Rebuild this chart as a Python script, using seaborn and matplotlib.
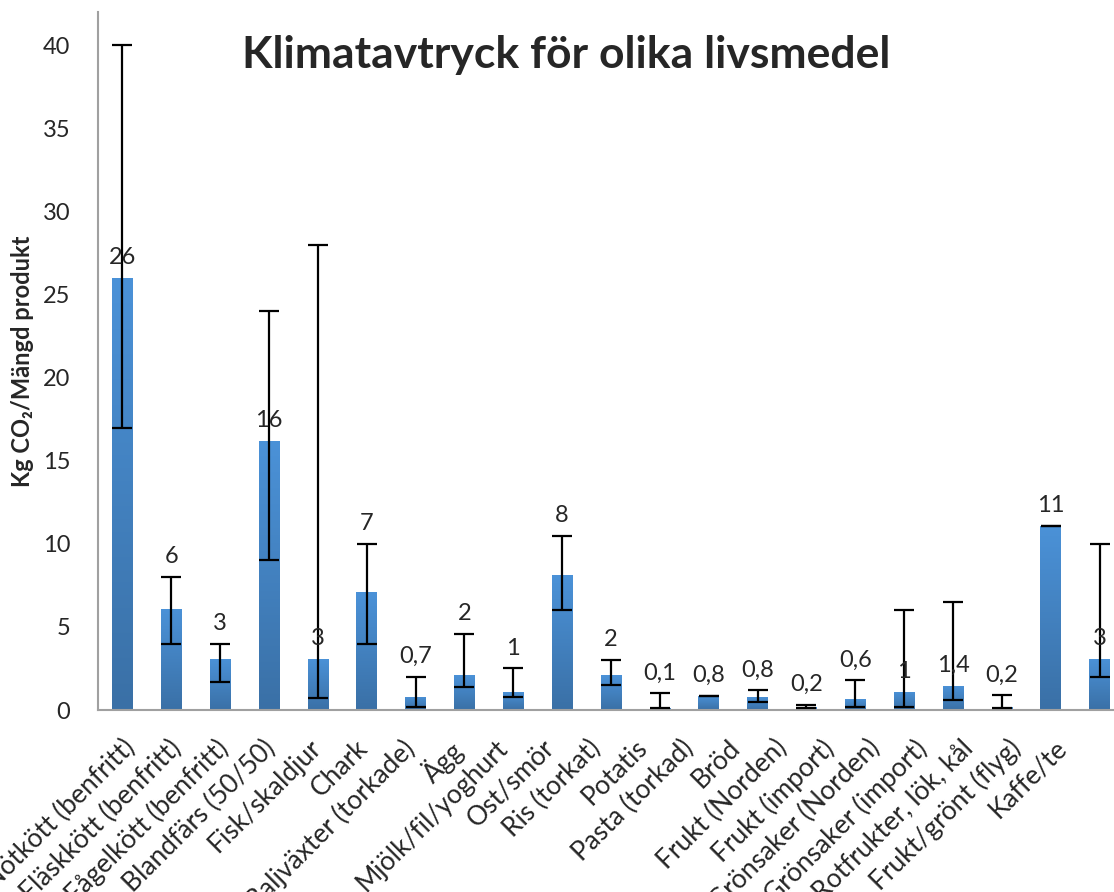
import numpy as np
import pandas as pd
import seaborn as sns
import matplotlib.pyplot as plt
from matplotlib.transforms import ScaledTranslation

# food categories and climate footprint (kg CO2 per amount of product)
foods = ["Nötkött (benfritt)", "Fläskkött (benfritt)", "Fågelkött (benfritt)",
         "Blandfärs (50/50)", "Fisk/skaldjur", "Chark", "Baljväxter (torkade)",
         "Ägg", "Mjölk/fil/yoghurt", "Ost/smör", "Ris (torkat)", "Potatis",
         "Pasta (torkad)", "Bröd", "Frukt (Norden)", "Frukt (import)",
         "Grönsaker (Norden)", "Grönsaker (import)", "Rotfrukter, lök, kål",
         "Frukt/grönt (flyg)", "Kaffe/te"]
values = [26.0, 6.1, 3.1, 16.2, 3.1, 7.1, 0.8, 2.1, 1.1, 8.1, 2.1, 0.15,
          0.85, 0.8, 0.2, 0.65, 1.1, 1.45, 0.2, 11.1, 3.1]
low = [17.0, 4.0, 1.7, 9.0, 0.7, 4.0, 0.2, 1.4, 0.8, 6.0, 1.5, 0.1,
       0.85, 0.5, 0.1, 0.2, 0.2, 0.6, 0.15, 11.1, 2.0]
high = [40.0, 8.0, 4.0, 24.0, 28.0, 10.0, 2.0, 4.6, 2.5, 10.5, 3.0, 1.0,
        0.85, 1.2, 0.33, 1.8, 6.0, 6.5, 0.9, 11.1, 10.0]
value_labels = ["26", "6", "3", "16", "3", "7", "0,7", "2", "1", "8", "2", "0,1",
                "0,8", "0,8", "0,2", "0,6", "1", "1,4", "0,2", "11", "3"]

df = pd.DataFrame({"Livsmedel": foods, "CO2": values, "low": low, "high": high})

sns.set_style("white")
plt.rcParams["font.family"] = ["Lato", "DejaVu Sans"]

fig = plt.figure(figsize=(11.14, 8.92), dpi=100)
ax = fig.add_axes([0.088, 0.204, 0.921, 0.7825])

sns.barplot(data=df, x="Livsmedel", y="CO2", color="#4a8ccf", width=0.42,
            errorbar=None, ax=ax, zorder=2)

# vertical gradient on each bar, lighter at the top
grad = np.linspace(0, 1, 256).reshape(-1, 1)
cmap = sns.blend_palette(["#3a70a6", "#4b92d8"], as_cmap=True)
for p in ax.patches:
    x0, y0 = p.get_x(), p.get_y()
    w, h = p.get_width(), p.get_height()
    im = ax.imshow(grad, cmap=cmap, origin="lower", aspect="auto",
                   extent=[x0, x0 + w, y0, y0 + h], zorder=2)
    im.set_clip_path(p)
    p.set_facecolor("none")
    p.set_edgecolor("none")

xs = np.arange(len(foods))
yerr = [df["CO2"] - df["low"], df["high"] - df["CO2"]]
ax.errorbar(xs, df["CO2"], yerr=np.clip(yerr, 0, None), fmt="none",
            ecolor="black", elinewidth=1.6, capsize=7, capthick=1.6, zorder=3)

# value labels: above the bar, or above the cap when it is close
for i, (v, hi, txt) in enumerate(zip(values, high, value_labels)):
    base = hi if hi - v < 3.5 else v
    ax.annotate(txt, (i, base), xytext=(0, 7), textcoords="offset points",
                ha="center", va="bottom", fontsize=17, zorder=4)

ax.set_xlim(-0.5, len(foods) - 0.5)
ax.set_ylim(0, 42)
ax.set_yticks(range(0, 41, 5))
ax.tick_params(axis="y", labelsize=17, length=0, pad=20)
ax.tick_params(axis="x", labelsize=19, length=0, pad=18)
plt.setp(ax.get_xticklabels(), rotation=45, ha="right", rotation_mode="anchor")
# the category labels drift a little to the left, as in the original chart
for i, lbl in enumerate(ax.get_xticklabels()):
    lbl.set_transform(lbl.get_transform()
                      + ScaledTranslation(-0.023 * i, 0, fig.dpi_scale_trans))

for s in ["top", "right"]:
    ax.spines[s].set_visible(False)
for s in ["left", "bottom"]:
    ax.spines[s].set_color("#a0a0a0")
    ax.spines[s].set_linewidth(1.5)

ax.set_xlabel("")
ax.set_ylabel("Kg CO₂/Mängd produkt", fontsize=17, fontweight="bold")
ax.yaxis.set_label_coords(-0.062, 0.5)

fig.text(0.508, 0.938, "Klimatavtryck för olika livsmedel", ha="center",
         va="center", fontsize=32, fontweight="bold")

fig.savefig("out.png", dpi=100)
